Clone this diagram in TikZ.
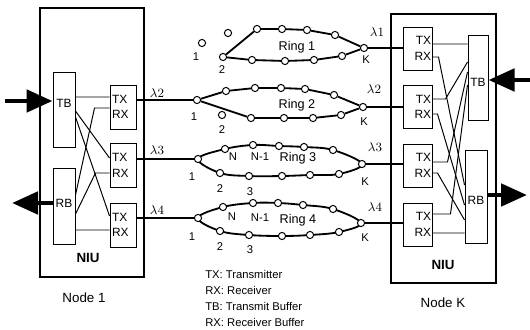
\documentclass[tikz,border=0pt]{standalone}
\usepackage{fontspec}
\setmainfont{Liberation Sans}
\usetikzlibrary{arrows.meta, backgrounds}

\begin{document}
\begin{tikzpicture}[
    x=0.25mm, y=-0.25mm,
    niu/.style={rectangle, draw, line width=0.8pt, minimum height=67.25mm, inner sep=0pt},
    buf/.style={rectangle, draw, line width=0.7pt, inner sep=0pt},
    trxA/.style={rectangle, draw, line width=0.7pt, minimum height=11mm, inner ysep=0pt, inner xsep=0.5mm, text width=5.5mm, align=left, font=\fontsize{8.5}{11}\selectfont},
    trxB/.style={rectangle, draw, line width=0.7pt, minimum height=10.75mm, inner ysep=0pt, inner xsep=0.2mm, text width=6.85mm, align=right, font=\fontsize{8.5}{11}\selectfont},
    stn/.style={circle, draw, fill=white, line width=0.7pt, minimum size=1.8mm, inner sep=0pt},
    lbl/.style={font=\fontsize{8}{8}\selectfont, inner sep=0pt},
    rname/.style={font=\fontsize{9}{9}\selectfont, inner sep=0pt},
    wl/.style={font=\fontsize{9.5}{10}\selectfont, inner sep=0pt},
    title/.style={font=\fontsize{9.5}{10}\selectfont, inner sep=0pt},
    wire/.style={line width=0.7pt},
    ring/.style={line width=1.3pt},
    link/.style={line width=1.6pt},
    bigarrow/.style={line width=3.5pt, -{Triangle[length=6.5mm, width=5.5mm]}}
]
    \useasboundingbox (0,0) rectangle (530,330);

    \node[niu, minimum width=26mm] (niuA) at (92,142.5) {};
    \node[buf, minimum width=5.5mm, minimum height=18.75mm, label={[font=\fontsize{8.5}{9}\selectfont, yshift=1.6mm]center:TB}] (tbA) at (64,109.5) {};
    \node[buf, minimum width=5.5mm, minimum height=19mm, label={[font=\fontsize{8.5}{9}\selectfont, yshift=0.75mm]center:RB}] (rbA) at (64,206) {};
    \node[trxA] (txA1) at (123,107) {TX\\RX};
    \node[trxA] (txA2) at (123,165.5) {TX\\RX};
    \node[trxA] (txA3) at (123,225) {TX\\RX};
    \node[title, font=\fontsize{9.5}{10}\selectfont\bfseries] (niuAl) at (88,258) {NIU};
    \node[title] (nodeA) at (84,298) {Node 1};

    \node[niu, minimum width=26.25mm] (niuB) at (443.5,148.5) {};
    \node[buf, minimum width=5mm, minimum height=21.25mm, label={[font=\fontsize{8.5}{9}\selectfont, yshift=-1.1mm]center:TB}] (tbB) at (478,77.5) {};
    \node[buf, minimum width=5.5mm, minimum height=23.25mm, label={[font=\fontsize{8.5}{9}\selectfont, yshift=-0.9mm]center:RB}] (rbB) at (476,196.5) {};
    \node[trxB] (txB1) at (417.5,48.5) {TX\\RX};
    \node[trxB] (txB2) at (417.5,107) {TX\\RX};
    \node[trxB] (txB3) at (417.5,165.5) {TX\\RX};
    \node[trxB] (txB4) at (417.5,224.5) {TX\\RX};
    \node[title, font=\fontsize{9.5}{10}\selectfont\bfseries] (niuBl) at (443,265) {NIU};
    \node[title] (nodeB) at (443,303) {Node K};

    \coordinate (inA) at (5,101);
    \coordinate (outA) at (12,203);
    \coordinate (inB) at (530,80);
    \coordinate (outB) at (527,195);
    \draw[bigarrow] (inA) -- (tbA.west |- inA);
    \draw[bigarrow] (rbA.west |- outA) -- (outA);
    \draw[bigarrow] (inB) -- (tbB.east |- inB);
    \draw[bigarrow] (rbB.east |- outB) -- (outB);

    \draw[wire] ([yshift=3.125mm]tbA.east) -- ([yshift=2.5mm]txA1.west);
    \draw[wire] ([yshift=-0.375mm]tbA.east) -- ([yshift=1.875mm]txA2.west);
    \draw[wire] ([yshift=-1.875mm]tbA.east) -- ([yshift=2.25mm]txA3.west);
    \draw[wire] ([yshift=2.75mm]rbA.east) -- ([xshift=-3.75mm, yshift=-0.25mm]txA1.west) -- ([yshift=-0.25mm]txA1.west);
    \draw[wire] ([yshift=-2mm]rbA.east) -- ([xshift=-3.5mm, yshift=-1.875mm]txA2.west) -- ([yshift=-1.875mm]txA2.west);
    \draw[wire, line width=0.5pt] ([yshift=-6mm]rbA.east) -- ([yshift=-1.25mm]txA3.west);

    \draw[wire] ([yshift=1.125mm]txB1.east) -- ([yshift=8.375mm]tbB.west);
    \draw[wire] ([yshift=2mm]txB2.east) -- ([xshift=3.25mm, yshift=2mm]txB2.east) -- ([yshift=3.875mm]tbB.west);
    \draw[wire] ([yshift=0.875mm]txB3.east) -- ([xshift=3.75mm, yshift=0.875mm]txB3.east) -- ([yshift=1.375mm]tbB.west);
    \draw[wire] ([yshift=2.625mm]txB4.east) -- ([xshift=4.5mm, yshift=2.625mm]txB4.east) -- ([yshift=-1.875mm]tbB.west);
    \draw[wire] ([yshift=-2.125mm]txB1.east) -- ([xshift=1.5mm, yshift=-2.125mm]txB1.east) -- ([yshift=2.875mm]rbB.west);
    \draw[wire] ([yshift=-1.75mm]txB2.east) -- ([xshift=1.25mm, yshift=-1.75mm]txB2.east) -- ([yshift=-2.125mm]rbB.west);
    \draw[wire] ([yshift=-1.875mm]txB3.east) -- ([xshift=1.25mm, yshift=-1.875mm]txB3.east) -- ([yshift=-5.875mm]rbB.west);
    \draw[wire, line width=0.5pt] ([yshift=-2.125mm]txB4.east) -- ([yshift=-9.125mm]rbB.west);

    \node[stn] (r1s1) at (202,43) {};
    \node[stn] (r1x) at (228,33) {};
    \node[stn] (r1s2) at (223,57) {};
    \node[stn] (r1t1) at (257,29) {};
    \node[stn] (r1t2) at (282,29) {};
    \node[stn] (r1t3) at (307,30) {};
    \node[stn] (r1t4) at (335,35) {};
    \node[stn] (r1k) at (364,48) {};
    \node[stn] (r1b1) at (252,60) {};
    \node[stn] (r1b2) at (285,61) {};
    \node[stn] (r1b3) at (314,60) {};
    \node[stn] (r1b4) at (342,56) {};
    \draw[ring] (r1s2) -- (r1t1) -- (r1t2) -- (r1t3) -- (r1t4) -- (r1k) -- (r1b4) -- (r1b3) -- (r1b2) -- (r1b1) -- (r1s2);
    \node[lbl] (r1l1) at (196,57) {1};
    \node[lbl] (r1l2) at (222,70) {2};
    \node[lbl] (r1lk) at (366,60) {K};
    \node[rname] (r1n) at (297,47) {Ring 1};

    \node[stn] (r2s1) at (197,100) {};
    \node[stn] (r2x) at (222,115) {};
    \node[stn] (r2t1) at (226,91) {};
    \node[stn] (r2t2) at (255,88) {};
    \node[stn] (r2t3) at (281,88) {};
    \node[stn] (r2t4) at (305,89) {};
    \node[stn] (r2t5) at (334,95) {};
    \node[stn] (r2k) at (363,107) {};
    \node[stn] (r2b1) at (251,118) {};
    \node[stn] (r2b2) at (284,118) {};
    \node[stn] (r2b3) at (313,118) {};
    \node[stn] (r2b4) at (341,115) {};
    \draw[ring] (r2s1) -- (r2t1) -- (r2t2) -- (r2t3) -- (r2t4) -- (r2t5) -- (r2k) -- (r2b4) -- (r2b3) -- (r2b2) -- (r2b1) -- (r2s1);
    \node[lbl] (r2l1) at (194,117) {1};
    \node[lbl] (r2l2) at (222,130) {2};
    \node[lbl] (r2lk) at (364,122) {K};
    \node[rname] (r2n) at (297,105) {Ring 2};

    \node[stn] (r3s1) at (198,159) {};
    \node[stn] (r3t1) at (225,149) {};
    \node[stn] (r3t2) at (253,145) {};
    \node[stn] (r3t3) at (279,146) {};
    \node[stn] (r3t4) at (304,147) {};
    \node[stn] (r3t5) at (333,150) {};
    \node[stn] (r3k) at (362,164) {};
    \node[stn] (r3b4) at (339,174) {};
    \node[stn] (r3b3) at (310,175) {};
    \node[stn] (r3b2) at (282,176) {};
    \node[stn] (r3b1) at (249,176) {};
    \node[stn] (r3b0) at (220,173) {};
    \begin{scope}[on background layer]
        \draw[ring] plot[smooth cycle, tension=0.6] coordinates {(r3s1.center) (r3t1.center) (r3t2.center) (r3t3.center) (r3t4.center) (r3t5.center) (r3k.center) (r3b4.center) (r3b3.center) (r3b2.center) (r3b1.center) (r3b0.center)};
    \end{scope}
    \node[lbl] (r3ln) at (233,157) {N};
    \node[lbl] (r3lm) at (260,157) {N-1};
    \node[lbl] (r3l1) at (192,177) {1};
    \node[lbl] (r3l2) at (220,189) {2};
    \node[lbl] (r3l3) at (250,192) {3};
    \node[lbl] (r3lk) at (365,182) {K};
    \node[rname] (r3n) at (298,158) {Ring 3};

    \node[stn] (r4s1) at (198,218) {};
    \node[stn] (r4t1) at (223,207) {};
    \node[stn] (r4t2) at (253,203) {};
    \node[stn] (r4t3) at (278,203) {};
    \node[stn] (r4t4) at (303,205) {};
    \node[stn] (r4t5) at (333,209) {};
    \node[stn] (r4k) at (361,223) {};
    \node[stn] (r4b4) at (339,232) {};
    \node[stn] (r4b3) at (310,235) {};
    \node[stn] (r4b2) at (282,236) {};
    \node[stn] (r4b1) at (249,235) {};
    \node[stn] (r4b0) at (220,231) {};
    \begin{scope}[on background layer]
        \draw[ring] plot[smooth cycle, tension=0.6] coordinates {(r4s1.center) (r4t1.center) (r4t2.center) (r4t3.center) (r4t4.center) (r4t5.center) (r4k.center) (r4b4.center) (r4b3.center) (r4b2.center) (r4b1.center) (r4b0.center)};
    \end{scope}
    \node[lbl] (r4ln) at (232,217) {N};
    \node[lbl] (r4lm) at (260,218) {N-1};
    \node[lbl] (r4l1) at (192,237) {1};
    \node[lbl] (r4l2) at (220,247) {2};
    \node[lbl] (r4l3) at (250,250) {3};
    \node[lbl] (r4lk) at (365,238) {K};
    \node[rname] (r4n) at (298,220) {Ring 4};

    \draw[link] (txA1.east |- r2s1) -- (r2s1);
    \draw[link] (txA2.east |- r3s1) -- (r3s1);
    \draw[link] (txA3.east |- r4s1) -- (r4s1);
    \draw[link] (r1k) -- (txB1.west |- r1k);
    \draw[link] (r2k) -- (txB2.west |- r2k);
    \draw[link] (r3k) -- (txB3.west |- r3k);
    \draw[link] (r4k) -- (txB4.west |- r4k);

    \node[wl] (wA2) at (157,93) {$\lambda2$};
    \node[wl] (wA3) at (157,150) {$\lambda3$};
    \node[wl] (wA4) at (157,210) {$\lambda4$};
    \node[wl] (wB1) at (377,32) {$\lambda1$};
    \node[wl] (wB2) at (374,89) {$\lambda2$};
    \node[wl] (wB3) at (375,147) {$\lambda3$};
    \node[wl] (wB4) at (375,207) {$\lambda4$};

    \node[lbl, anchor=north west, align=left, font=\fontsize{8}{11.3}\selectfont] (legend) at (205,270) {TX: Transmitter\\RX: Receiver\\TB: Transmit Buffer\\RX: Receiver Buffer};
\end{tikzpicture}
\end{document}
